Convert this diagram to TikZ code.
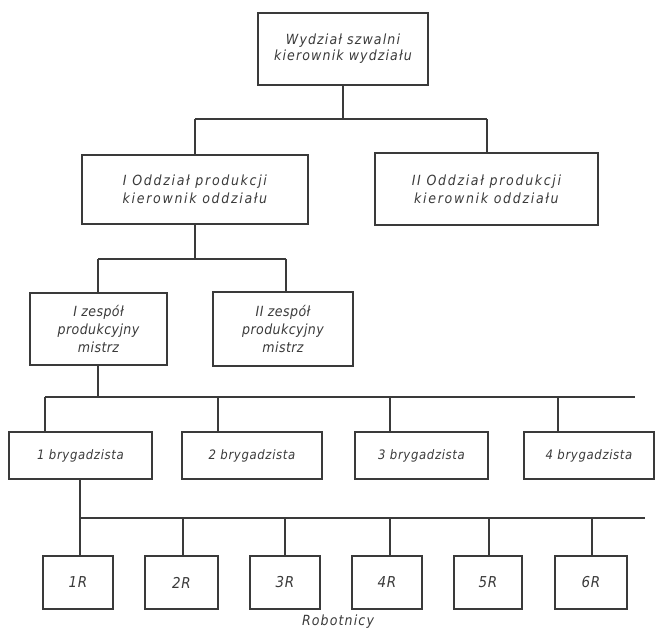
\documentclass[tikz,border=0pt]{standalone}
\usepackage{fontspec}
\setmainfont{DejaVu Sans Condensed}
\definecolor{ink}{HTML}{3A3A3A}
\begin{document}
\begin{tikzpicture}[x=1pt,y=-1pt,
  box/.style={draw=ink, line width=1.1pt, rectangle, inner sep=0pt, align=center,
    text=ink, font=\fontsize{13}{17}\selectfont\itshape},
  lvla/.style={font=\fontsize{14}{16}\selectfont\itshape\addfontfeature{LetterSpace=8}},
  lvlb/.style={font=\fontsize{14}{18}\selectfont\itshape\addfontfeature{LetterSpace=12}},
  lvlc/.style={font=\fontsize{14}{18}\selectfont\itshape\addfontfeature{LetterSpace=3}},
  lvld/.style={font=\fontsize{13}{16}\selectfont\itshape\addfontfeature{LetterSpace=5}},
  lvle/.style={font=\fontsize{15}{16}\selectfont\itshape\addfontfeature{LetterSpace=5}},
  conn/.style={draw=ink, line width=1.1pt},
  lbl/.style={text=ink, inner sep=0pt, font=\fontsize{14}{16}\selectfont\itshape\addfontfeature{LetterSpace=8}}]
\useasboundingbox (0,0) rectangle (656,632);
% level 1
\node[box, lvla, minimum width=170pt, minimum height=72pt] (top) at (343,49) {Wydział szwalni\\kierownik wydziału};
% level 2
\node[box, lvlb, minimum width=226pt, minimum height=69pt] (oa) at (195,189.5) {I Oddział produkcji\\kierownik oddziału};
\node[box, lvlb, minimum width=223pt, minimum height=72pt] (ob) at (486.5,189) {II Oddział produkcji\\kierownik oddziału};
% level 3
\node[box, lvlc, minimum width=137pt, minimum height=72pt] (za) at (98.5,329) {I zespół\\produkcyjny\\mistrz};
\node[box, lvlc, minimum width=140pt, minimum height=74pt] (zb) at (283,329) {II zespół\\produkcyjny\\mistrz};
% level 4
\node[box, lvld, minimum width=143pt, minimum height=47pt] (b1) at (80.5,455.5) {1 brygadzista};
\node[box, lvld, minimum width=140pt, minimum height=47pt] (b2) at (252,455.5) {2 brygadzista};
\node[box, lvld, minimum width=133pt, minimum height=47pt] (b3) at (421.5,455.5) {3 brygadzista};
\node[box, lvld, minimum width=130pt, minimum height=47pt] (b4) at (589,455.5) {4 brygadzista};
% level 5
\node[box, lvle, minimum width=70pt, minimum height=53pt] (r1) at (78,582.5) {1R};
\node[box, lvle, minimum width=73pt, minimum height=53pt] (r2) at (181.5,582.5) {2R};
\node[box, lvle, minimum width=70pt, minimum height=53pt] (r3) at (285,582.5) {3R};
\node[box, lvle, minimum width=70pt, minimum height=53pt] (r4) at (387,582.5) {4R};
\node[box, lvle, minimum width=68pt, minimum height=53pt] (r5) at (488,582.5) {5R};
\node[box, lvle, minimum width=72pt, minimum height=53pt] (r6) at (591,582.5) {6R};
\node[lbl] (rob) at (338,622) {Robotnicy};
% junction coordinates
\coordinate (j1) at (343,119);
\coordinate (j1a) at (195,119);
\coordinate (j1b) at (487,119);
\coordinate (j2) at (195,259);
\coordinate (j2a) at (98,259);
\coordinate (j2b) at (286,259);
\coordinate (j3) at (98,397);
\coordinate (j3a) at (45,397);
\coordinate (j3b) at (218,397);
\coordinate (j3c) at (390,397);
\coordinate (j3d) at (558,397);
\coordinate (j3e) at (635,397);
\coordinate (j4) at (80,518);
\coordinate (j4b) at (183,518);
\coordinate (j4c) at (285,518);
\coordinate (j4d) at (390,518);
\coordinate (j4e) at (489,518);
\coordinate (j4f) at (592,518);
\coordinate (j4g) at (645,518);
% connectors level 1-2
\draw[conn] (top.south) -- (j1);
\draw[conn] (j1a) -- (j1b);
\draw[conn] (j1a) -- (oa.north);
\draw[conn] (j1b) -- (j1b |- ob.north);
% level 2-3
\draw[conn] (oa.south) -- (j2);
\draw[conn] (j2a) -- (j2b);
\draw[conn] (j2a) -- (j2a |- za.north);
\draw[conn] (j2b) -- (j2b |- zb.north);
% level 3-4
\draw[conn] (j3 |- za.south) -- (j3);
\draw[conn] (j3a) -- (j3e);
\draw[conn] (j3a) -- (j3a |- b1.north);
\draw[conn] (j3b) -- (j3b |- b2.north);
\draw[conn] (j3c) -- (j3c |- b3.north);
\draw[conn] (j3d) -- (j3d |- b4.north);
% level 4-5
\draw[conn] (j4 |- b1.south) -- (j4);
\draw[conn] (j4) -- (j4g);
\draw[conn] (j4) -- (j4 |- r1.north);
\draw[conn] (j4b) -- (j4b |- r2.north);
\draw[conn] (j4c) -- (j4c |- r3.north);
\draw[conn] (j4d) -- (j4d |- r4.north);
\draw[conn] (j4e) -- (j4e |- r5.north);
\draw[conn] (j4f) -- (j4f |- r6.north);
\end{tikzpicture}
\end{document}
